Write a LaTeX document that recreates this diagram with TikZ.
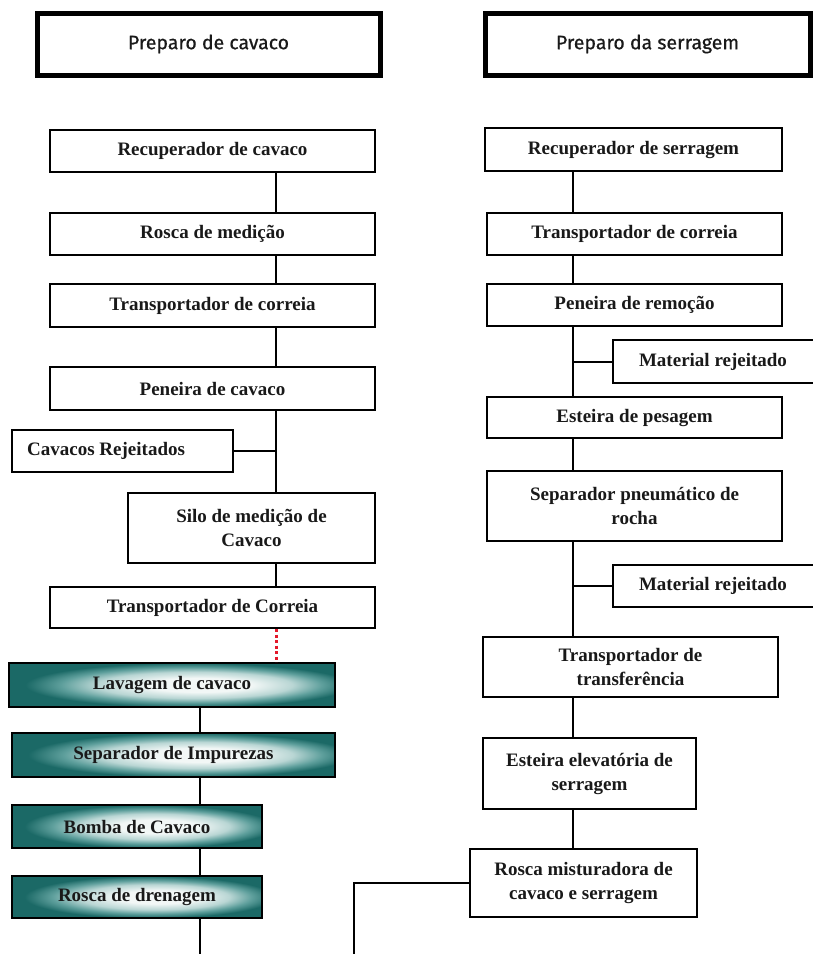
\documentclass[tikz,border=0pt]{standalone}
\usepackage{fontspec}
\setmainfont{Liberation Serif}
\newfontfamily\headfont[FakeBold=0.6]{Fira Sans}
\usetikzlibrary{calc}

\definecolor{tealD}{HTML}{1B6966}
\definecolor{tealM}{HTML}{5E9F9C}
\definecolor{tealS}{HTML}{B9D6D4}
\definecolor{tealL}{HTML}{F2F7F6}
\definecolor{dottedred}{HTML}{E3182A}

% light centre fading out to dark teal at the edges
\pgfdeclareradialshading{tealglow}{\pgfpoint{5bp}{0bp}}{%
  color(0bp)=(tealL); color(8bp)=(tealL); color(15bp)=(tealS);
  color(20bp)=(tealM); color(25bp)=(tealD); color(50bp)=(tealD)}

\tikzset{
  headbox/.style={draw=black, line width=5pt, fill=white, inner sep=0pt,
    font=\headfont\fontsize{19.5}{22}\selectfont, text=black!90},
  stagebox/.style={draw=black, line width=2pt, fill=white, inner sep=0pt,
    align=center, font=\bfseries\fontsize{19}{24}\selectfont, text=black!90},
  washbox/.style={stagebox, shading=tealglow},
  link/.style={draw=black, line width=2pt},
  redlink/.style={draw=dottedred, line width=3pt, dash pattern=on 3pt off 2.5pt},
}

% \flowbox{name}{x1}{y1}{x2}{y2}{style}{text}
\newcommand\flowbox[7]{%
  \node[#6, minimum width={(#4-#2)*1pt}, minimum height={(#5-#3)*1pt}]
    (#1) at ({(#2+#4)/2},{(#3+#5)/2}) {#7};}

\begin{document}
\begin{tikzpicture}[x=1pt,y=-1pt]
\useasboundingbox (0,0) rectangle (813,954);

% column headers
\flowbox{hL}{37}{13}{380}{75}{headbox}{Preparo de cavaco}
\flowbox{hR}{485}{13}{810}{75}{headbox}{Preparo da serragem}

% x positions of the vertical trunks
\coordinate (lx) at (276,0);
\coordinate (wx) at (200,0);
\coordinate (rx) at (573,0);

% chip preparation
\flowbox{c1}{50}{130}{375}{172}{stagebox}{Recuperador de cavaco}
\flowbox{c2}{50}{213}{375}{255}{stagebox}{Rosca de medição}
\flowbox{c3}{50}{284}{375}{327}{stagebox}{Transportador de correia}
\flowbox{c4}{50}{367}{375}{410}{stagebox}{Peneira de cavaco}
\node[stagebox, minimum width=221pt, minimum height=42pt] (c5) at (122.5,451) {};
\node[anchor=west, font=\bfseries\fontsize{19}{24}\selectfont, text=black!90, inner sep=0pt] (c5t) at (27,451) {Cavacos Rejeitados};
\flowbox{c6}{128}{493}{375}{563}{stagebox}{Silo de medição de\\Cavaco}
\flowbox{c7}{50}{587}{375}{628}{stagebox}{Transportador de Correia}
\flowbox{c8}{9}{663}{335}{707}{washbox}{Lavagem de cavaco}
\flowbox{c9}{12}{733}{335}{777}{washbox}{Separador de Impurezas}
\flowbox{c10}{12}{805}{262}{848}{washbox}{Bomba de Cavaco}
\flowbox{c11}{12}{876}{262}{918}{washbox}{Rosca de drenagem}
\coordinate (cEnd) at (200,954);

\draw[link] (c1.south -| lx) -- (c2.north -| lx);
\draw[link] (c2.south -| lx) -- (c3.north -| lx);
\draw[link] (c3.south -| lx) -- (c4.north -| lx);
\draw[link] (c4.south -| lx) -- (c6.north -| lx);
\draw[link] (c5.east) -- (c5.east -| lx);
\draw[link] (c6.south -| lx) -- (c7.north -| lx);
\draw[redlink] (c7.south -| lx) -- (c8.north -| lx);
\draw[link] (c8.south -| wx) -- (c9.north -| wx);
\draw[link] (c9.south -| wx) -- (c10.north -| wx);
\draw[link] (c10.south -| wx) -- (c11.north -| wx);
\draw[link] (c11.south -| wx) -- (cEnd);

% sawdust preparation
\flowbox{s1}{485}{128}{782}{171}{stagebox}{Recuperador de serragem}
\flowbox{s2}{487}{213}{782}{255}{stagebox}{Transportador de correia}
\flowbox{s3}{487}{284}{782}{326}{stagebox}{Peneira de remoção}
\flowbox{m1}{613}{340}{818}{383}{stagebox}{\hspace*{-2pt}Material rejeitado\hspace*{3pt}}
\flowbox{s4}{487}{397}{782}{438}{stagebox}{Esteira de pesagem}
\flowbox{s5}{487}{471}{782}{541}{stagebox}{Separador pneumático de\\rocha}
\flowbox{m2}{613}{565}{818}{607}{stagebox}{\hspace*{-2pt}Material rejeitado\hspace*{3pt}}
\flowbox{s6}{483}{637}{778}{697}{stagebox}{Transportador de\\transferência}
\flowbox{s7}{483}{738}{696}{809}{stagebox}{Esteira elevatória de\\serragem}
\flowbox{s8}{470}{849}{697}{917}{stagebox}{Rosca misturadora de\\cavaco e serragem}
\coordinate (sEnd) at (354,954);

\draw[link] (s1.south -| rx) -- (s2.north -| rx);
\draw[link] (s2.south -| rx) -- (s3.north -| rx);
\draw[link] (s3.south -| rx) -- (s4.north -| rx);
\draw[link] (m1.west) -- (m1.west -| rx);
\draw[link] (s4.south -| rx) -- (s5.north -| rx);
\draw[link] (s5.south -| rx) -- (s6.north -| rx);
\draw[link] (m2.west) -- (m2.west -| rx);
\draw[link] (s6.south -| rx) -- (s7.north -| rx);
\draw[link] (s7.south -| rx) -- (s8.north -| rx);
\draw[link] (s8.west) -| (sEnd);
\end{tikzpicture}
\end{document}
